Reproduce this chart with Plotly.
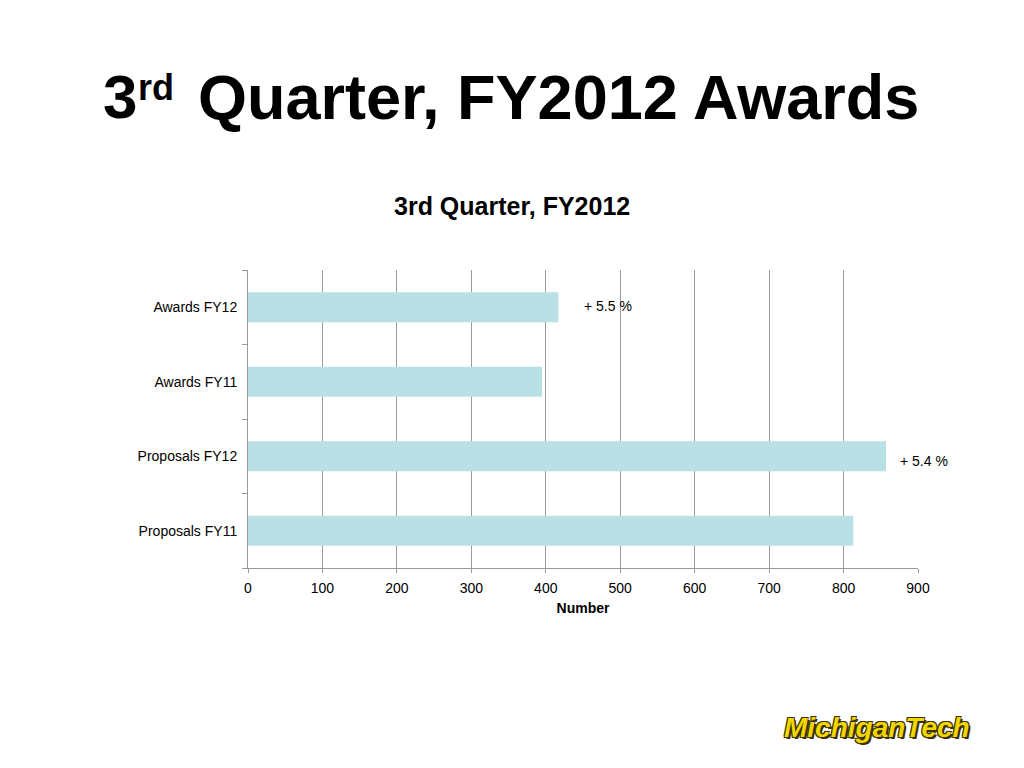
import plotly.graph_objects as go

categories = ["Proposals FY11", "Proposals FY12", "Awards FY11", "Awards FY12"]
values = [813, 857, 395, 417]
change_labels = ["+ 5.5 %", "+ 5.4 %"]
x_ticks = [0, 100, 200, 300, 400, 500, 600, 700, 800, 900]

font_family = "Liberation Sans, Arial, sans-serif"

# Page body has an 8px margin, so the figure is sized 1016x760
W, H = 1016, 760
OFF = 8
L, R, T, B = 240, 106, 262, 200
plot_w = W - L - R
plot_h = H - T - B


def px_to_paper(px, py):
    return (px - OFF - L) / plot_w, (H - B - (py - OFF)) / plot_h


fig = go.Figure()
fig.add_trace(go.Bar(
    y=categories, x=values, orientation="h",
    marker=dict(color="#b9e0e4", line=dict(width=0)),
    width=0.4, hoverinfo="x+y",
))

fig.update_layout(
    width=W, height=H,
    paper_bgcolor="white", plot_bgcolor="white",
    margin=dict(l=L, r=R, t=T, b=B, autoexpand=False),
    showlegend=False,
    font=dict(family=font_family, color="#000"),
    xaxis=dict(
        range=[0, 900], tickvals=x_ticks, showgrid=True, gridcolor="#9a9a9a", gridwidth=1,
        showline=True, linecolor="#9a9a9a", linewidth=1, ticks="outside", ticklen=4,
        tickcolor="#9a9a9a", tickfont=dict(size=14, color="#000"), zeroline=False,
        ticklabelstandoff=3,
        title=dict(text="<b>Number</b>", font=dict(size=14, color="#000"), standoff=8),
    ),
    yaxis=dict(
        categoryorder="array", categoryarray=categories,
        showline=True, linecolor="#9a9a9a", linewidth=1, ticks="outside", ticklen=5,
        tickcolor="#9a9a9a", tickson="boundaries", tickfont=dict(size=14, color="#000"),
        showgrid=False, ticklabelstandoff=7,
    ),
)

# Change labels
for lab, (px, py) in zip(change_labels, [(608, 306), (924, 461)]):
    xp, yp = px_to_paper(px, py)
    fig.add_annotation(x=xp, y=yp, xref="paper", yref="paper", xanchor="center", yanchor="middle",
                       text=lab, showarrow=False, font=dict(size=14, color="#000", family=font_family))

# Slide title, split in three parts to place the superscript like the slide
for txt, size, anchor, (px, py) in [
    ("<b>3</b>", 62, "left", (102, 96)),
    ("<b>rd</b>", 36, "left", (137, 87)),
    ("<b>Quarter, FY2012 Awards</b>", 63, "right", (920, 97)),
]:
    xp, yp = px_to_paper(px, py)
    fig.add_annotation(
        x=xp, y=yp, xref="paper", yref="paper", xanchor=anchor, yanchor="middle",
        text=txt, showarrow=False, borderpad=0,
        font=dict(size=size, color="#000", family=font_family),
    )

# Chart title
xp, yp = px_to_paper(512, 206)
fig.add_annotation(
    x=xp, y=yp, xref="paper", yref="paper", xanchor="center", yanchor="middle",
    text="<b>3rd Quarter, FY2012</b>", showarrow=False,
    font=dict(size=25, color="#000", family=font_family),
)
# Logo
xp, yp = px_to_paper(877, 727)
fig.add_annotation(
    x=xp, y=yp, xref="paper", yref="paper", xanchor="center", yanchor="middle",
    text="<b><i>MichiganTech</i></b>", showarrow=False,
    font=dict(size=28, color="#f2d600", family=font_family,
              shadow="-1px -1px 0 #3a3000, 1px -1px 0 #3a3000, -1px 1px 0 #3a3000, 2px 2px 0 #3a3000"),
)

fig.write_html("out.html")
